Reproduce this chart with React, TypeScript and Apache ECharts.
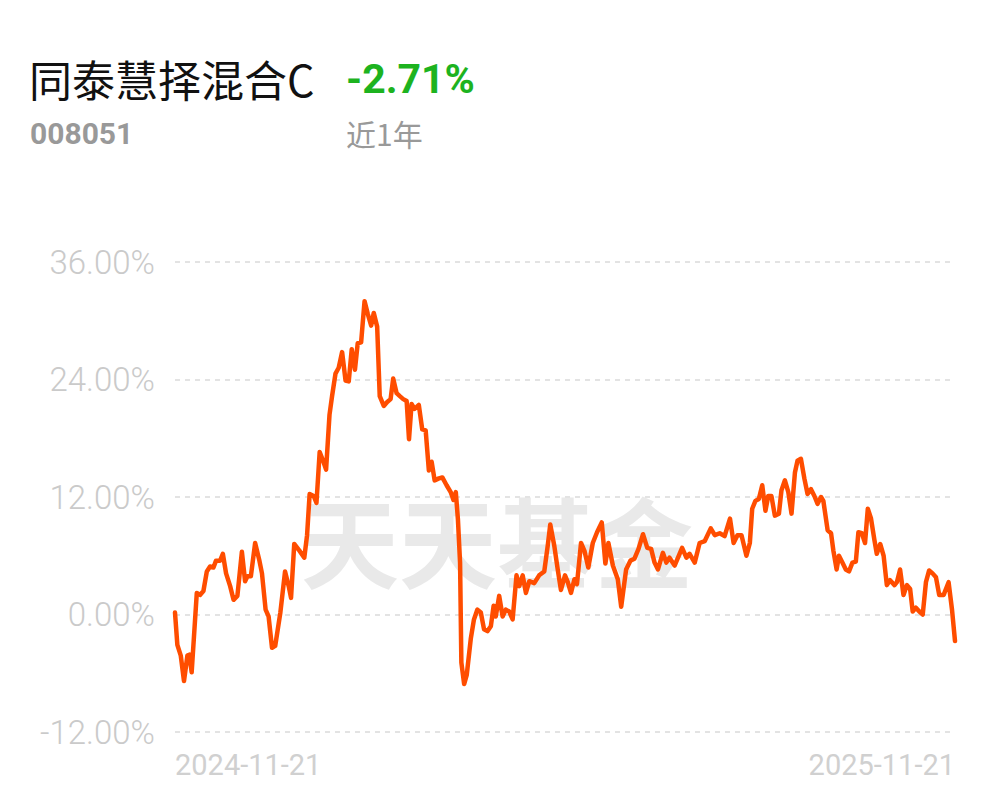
import React, { useEffect, useRef } from "react";
import * as echarts from "echarts";

const fundName = "同泰慧择混合C";
const fundCode = "008051";
const periodReturn = "-2.71%";
const periodLabel = "近1年";
const watermark = "天天基金";

const xTickLabels = ["2024-11-21", "2025-11-21"];
const yTicks = [-12, 0, 12, 24, 36];

// days since 2024-11-21
const days = [
  0, 1.1, 2.7, 4.2, 5.8, 6.7, 7.8, 10.2, 11.7, 13.3,
  14.9, 16.4, 18.0, 19.2, 21.1, 22.4, 23.9, 25.8, 27.4, 29.2,
  31.3, 32.8, 33.9, 35.5, 37.5, 39.4, 40.7, 42.4, 43.8, 45.4,
  46.9, 49.3, 51.5, 53.2, 54.3, 55.8, 58.3, 60.5, 61.8, 63.0,
  64.9, 66.2, 67.7, 69.3, 70.7, 72.3, 73.5, 75.1, 76.6, 78.2,
  79.8, 81.3, 82.7, 84.2, 85.5, 87.1, 88.7, 90.2, 91.8, 93.0,
  94.6, 95.8, 97.7, 99.3, 100.9, 102.1, 103.7, 105.2, 106.8, 108.4,
  109.5, 110.7, 112.1, 114.1, 115.7, 117.3, 118.8, 120.1, 121.5, 123.5,
  125.1, 127.1, 129.0, 130.3, 131.4, 132.4, 133.4, 134.0, 135.3, 136.5,
  138.4, 139.9, 141.5, 143.1, 144.6, 146.2, 147.8, 149.1, 150.1, 151.7,
  153.3, 154.8, 156.4, 158.0, 159.8, 161.1, 162.7, 164.2, 165.8, 168.1,
  170.4, 172.8, 174.4, 175.6, 177.5, 179.1, 180.6, 182.5, 183.8, 185.3,
  186.9, 188.1, 190.0, 191.6, 193.4, 195.5, 197.5, 199.7, 201.4, 202.8,
  204.9, 207.2, 208.8, 211.1, 213.1, 215.0, 216.9, 219.0, 221.0, 222.8,
  224.4, 226.0, 228.3, 229.9, 231.4, 233.8, 237.3, 239.3, 240.8, 243.2,
  245.5, 247.9, 250.7, 252.6, 254.9, 257.2, 259.7, 261.4, 263.2, 265.1,
  267.4, 269.0, 270.1, 271.6, 273.2, 274.8, 276.3, 277.6, 279.1, 280.7,
  282.6, 283.8, 285.4, 287.0, 288.5, 290.1, 291.3, 292.9, 294.5, 296.0,
  297.6, 299.2, 300.7, 302.3, 303.4, 305.4, 307.0, 308.1, 309.6, 310.7,
  312.3, 313.9, 315.4, 317.0, 318.6, 319.8, 321.4, 322.9, 324.2, 325.7,
  327.3, 328.4, 330.0, 331.6, 333.1, 334.6, 336.7, 337.8, 339.3, 340.9,
  342.5, 344.0, 345.2, 346.7, 348.3, 349.9, 351.4, 352.9, 354.5, 356.1,
  357.6, 359.7, 362.0, 363.6, 365,
];

// cumulative return, %
const returns = [
  0.2, -3.1, -4.2, -6.8, -4.2, -4.1, -5.9, 2.2, 2.0, 2.4,
  4.4, 4.9, 4.8, 5.5, 5.5, 6.2, 4.2, 2.9, 1.5, 1.9,
  6.4, 3.4, 3.9, 3.9, 7.3, 5.6, 4.2, 0.5, -0.2, -3.4,
  -3.2, 0.2, 4.4, 2.9, 1.7, 7.2, 6.5, 5.8, 8.1, 12.3,
  12.1, 11.4, 16.6, 15.7, 14.8, 20.4, 22.3, 24.6, 25.2, 26.8,
  23.9, 23.8, 27.1, 25.0, 27.7, 27.8, 32.0, 30.7, 29.5, 30.8,
  29.4, 22.3, 21.3, 21.7, 22.0, 24.1, 22.6, 22.3, 22.0, 21.8,
  17.9, 21.5, 21.0, 21.4, 18.9, 18.8, 14.7, 15.6, 13.7, 13.9,
  14.0, 13.2, 12.5, 11.7, 12.5, 9.7, 5.3, -4.9, -7.1, -6.2,
  -2.5, -0.5, 0.5, 0.2, -1.5, -1.7, -1.2, 0.9, -0.2, 1.9,
  -0.2, 0.5, 0.3, -0.5, 4.0, 2.9, 4.0, 2.2, 3.4, 3.2,
  4.0, 4.4, 7.0, 9.2, 7.0, 4.6, 2.5, 4.0, 3.3, 2.2,
  3.6, 3.1, 7.3, 6.5, 4.8, 7.3, 8.4, 9.4, 5.2, 7.3,
  5.0, 3.6, 0.8, 4.6, 5.5, 5.7, 6.7, 8.2, 6.8, 6.7,
  5.3, 4.6, 6.3, 5.3, 5.8, 5.0, 6.8, 5.8, 6.2, 5.3,
  7.3, 7.5, 8.8, 8.1, 8.3, 8.0, 9.8, 7.3, 8.1, 8.1,
  6.0, 7.3, 10.8, 11.6, 11.8, 13.2, 10.6, 12.1, 12.1, 10.1,
  10.3, 12.7, 13.7, 12.5, 10.3, 14.5, 15.7, 15.9, 13.9, 12.3,
  12.8, 12.1, 11.3, 12.0, 11.6, 8.6, 8.3, 6.5, 4.6, 6.0,
  5.3, 4.6, 4.4, 5.3, 5.4, 8.4, 8.3, 7.3, 10.8, 9.8,
  7.6, 6.2, 7.2, 6.0, 3.0, 3.5, 3.0, 3.3, 4.6, 2.0,
  3.0, 2.6, 0.3, 0.7, 0.3, 0.0, 3.3, 4.5, 4.2, 3.8,
  2.0, 2.0, 3.3, 0.5, -2.71,
];

const totalDays = 365;

export default function App() {
  const ref = useRef<HTMLDivElement>(null);

  useEffect(() => {
    document.body.style.margin = "0";
    if (!ref.current) return;
    const chart = echarts.init(ref.current, undefined, { renderer: "svg" });
    const seriesData = days.map((d, i) => [d, returns[i]]);
    chart.setOption({
      animation: false,
      backgroundColor: "#ffffff",
      grid: { left: 175, right: 42, top: 262, bottom: 70, containLabel: false },
      graphic: [
        {
          type: "text",
          z: 0,
          x: 497,
          y: 538,
          style: {
            text: watermark,
            font: "bold 98px 'Noto Sans CJK SC'",
            fill: "#e9e9e9",
            textAlign: "center",
            textVerticalAlign: "middle",
          },
        },
        {
          type: "text",
          x: 29,
          y: 78,
          style: {
            text: fundName,
            font: "400 43px 'Noto Sans CJK SC'",
            fill: "#111111",
            textAlign: "left",
            textVerticalAlign: "middle",
          },
        },
        {
          type: "text",
          x: 346,
          y: 79,
          style: {
            text: periodReturn,
            font: "bold 41px Roboto",
            fill: "#1db31f",
            textAlign: "left",
            textVerticalAlign: "middle",
          },
        },
        {
          type: "text",
          x: 30,
          y: 133,
          style: {
            text: fundCode,
            font: "bold 30px Roboto",
            fill: "#999999",
            textAlign: "left",
            textVerticalAlign: "middle",
          },
        },
        {
          type: "text",
          x: 346,
          y: 133,
          style: {
            text: periodLabel,
            font: "400 30px 'Noto Sans CJK SC'",
            fill: "#999999",
            textAlign: "left",
            textVerticalAlign: "middle",
          },
        },
      ],
      xAxis: {
        type: "value",
        min: 0,
        max: totalDays,
        interval: totalDays,
        axisLine: { show: false },
        axisTick: { show: false },
        splitLine: { show: false },
        axisLabel: {
          color: "#d0d0d0",
          fontSize: 29,
          fontFamily: "Roboto",
          margin: 18,
          alignMinLabel: "left",
          alignMaxLabel: "right",
          formatter: (v: number) => (v <= 0 ? xTickLabels[0] : xTickLabels[1]),
        },
      },
      yAxis: {
        type: "value",
        min: yTicks[0],
        max: yTicks[yTicks.length - 1],
        interval: 12,
        axisLine: { show: false },
        axisTick: { show: false },
        axisLabel: {
          color: "#cacaca",
          fontSize: 33,
          fontWeight: 300,
          fontFamily: "Roboto",
          margin: 20,
          formatter: (v: number) => v.toFixed(2) + "%",
        },
        splitLine: {
          show: true,
          lineStyle: { color: "#e3e3e3", width: 2, type: [5, 5] },
        },
      },
      series: [
        {
          type: "line",
          data: seriesData,
          showSymbol: false,
          symbol: "none",
          z: 5,
          lineStyle: { color: "#ff4d00", width: 4.5, join: "round", cap: "round" },
          itemStyle: { color: "#ff4d00" },
        },
      ],
    });
    return () => chart.dispose();
  }, []);

  return <div ref={ref} style={{ width: 997, height: 802 }} />;
}
